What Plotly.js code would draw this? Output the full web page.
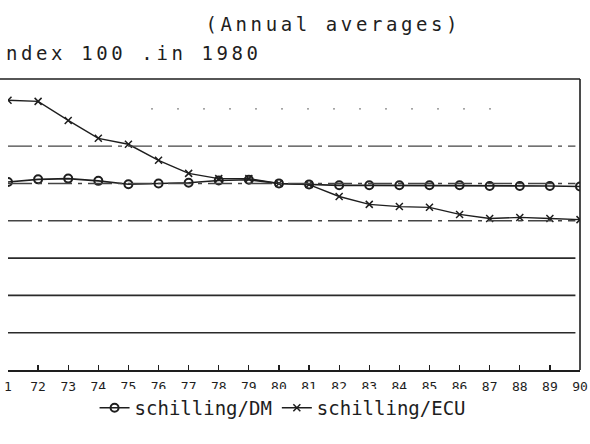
<!DOCTYPE html>
<html>
<head>
<meta charset="utf-8">
<script src="https://cdn.plot.ly/plotly-3.0.1.min.js"></script>
<style>
  html, body { margin: 0; padding: 0; background: #fff; }
  #chart { width: 590px; height: 444px; }
  .gtitle, .annotation-text { letter-spacing: 3.6px; }
</style>
</head>
<body>
<div id="chart"></div>
<script>
// ---- data (index 1980 = 100) ----
const years = [71, 72, 73, 74, 75, 76, 77, 78, 79, 80, 81, 82, 83, 84, 85, 86, 87, 88, 89, 90];
const tickLabels = ["1", "72", "73", "74", "75", "76", "77", "78", "79", "80", "81", "82", "83", "84", "85", "86", "87", "88", "89", "90"];
const schillingDM = [100.4, 101.1, 101.3, 100.7, 99.8, 100.0, 100.2, 100.8, 101.0, 100.0, 99.7, 99.5, 99.5, 99.5, 99.5, 99.5, 99.3, 99.3, 99.3, 99.2];
const schillingECU = [122.3, 122.0, 116.9, 112.1, 110.5, 106.2, 102.7, 101.3, 101.3, 100.0, 99.7, 96.5, 94.4, 93.8, 93.6, 91.7, 90.6, 90.9, 90.6, 90.3];
const solidGrid = [60, 70, 80];
const dashDotGrid = [90, 100, 110];
const dottedGrid = [120];
const seriesNames = ["schilling/DM", "schilling/ECU"];

const ink = "#1e1e1e";
const mono = "DejaVu Sans Mono, Liberation Mono, monospace";

const shapes = [];
solidGrid.forEach(v => shapes.push({type: "line", xref: "paper", yref: "y", x0: 0, x1: 0.992, y0: v, y1: v,
  line: {color: "#2a2a2a", width: 1.6}}));
dashDotGrid.forEach(v => shapes.push({type: "line", xref: "paper", yref: "y", x0: 0, x1: 0.992, y0: v, y1: v,
  line: {color: "#444", width: 1.4, dash: "24px 6px 4px 6px"}}));
dottedGrid.forEach(v => shapes.push({type: "line", xref: "paper", yref: "y", x0: 0.25, x1: 0.85, y0: v, y1: v,
  line: {color: "#888", width: 1.2, dash: "2px 24px"}}));
// frame: top rule and right border
shapes.push({type: "line", xref: "paper", yref: "paper", x0: -0.014, x1: 1, y0: 1, y1: 1, line: {color: ink, width: 1.6}});
shapes.push({type: "line", xref: "paper", yref: "paper", x0: 1, x1: 1, y0: 0, y1: 1, line: {color: ink, width: 1.6}});

const traces = [
  {x: years, y: schillingDM, name: seriesNames[0], type: "scatter", mode: "lines+markers",
   line: {color: ink, width: 1.6},
   marker: {symbol: "circle-open", size: 8, color: ink, line: {width: 2, color: ink}}},
  {x: years, y: schillingECU, name: seriesNames[1], type: "scatter", mode: "lines+markers",
   line: {color: ink, width: 1.4},
   marker: {symbol: "x-thin", size: 7, color: ink, line: {width: 1.5, color: ink}}}
];

const layout = {
  width: 590, height: 444,
  margin: {l: 8, r: 10, t: 79, b: 74},
  paper_bgcolor: "#fff", plot_bgcolor: "#fff",
  showlegend: true,
  title: {text: "(Annual averages)", x: 0.565, xanchor: "center", y: 0.945, yanchor: "middle",
          font: {family: mono, size: 19, color: ink}},
  annotations: [{text: "ndex 100 .in 1980", xref: "paper", yref: "paper", x: -0.007, y: 1.0, xanchor: "left", yanchor: "bottom",
                 yshift: 13, showarrow: false, font: {family: mono, size: 19, color: ink}}],
  xaxis: {range: [71, 90], tickvals: years, ticktext: tickLabels, ticks: "inside", ticklen: 5, tickwidth: 1.3, tickcolor: ink,
          ticklabelstandoff: 4,
          showgrid: false, zeroline: false, showline: true, linecolor: ink, linewidth: 1.6,
          tickfont: {family: mono, size: 13, color: ink}},
  yaxis: {range: [50, 128], showgrid: false, zeroline: false, showline: false, showticklabels: false, ticks: ""},
  legend: {orientation: "h", x: 0.48, xanchor: "center", y: -0.13, yanchor: "middle",
           font: {family: mono, size: 19, color: ink}, itemwidth: 30},
  shapes: shapes
};

Plotly.newPlot("chart", traces, layout, {displayModeBar: false, staticPlot: true});
</script>
</body>
</html>
